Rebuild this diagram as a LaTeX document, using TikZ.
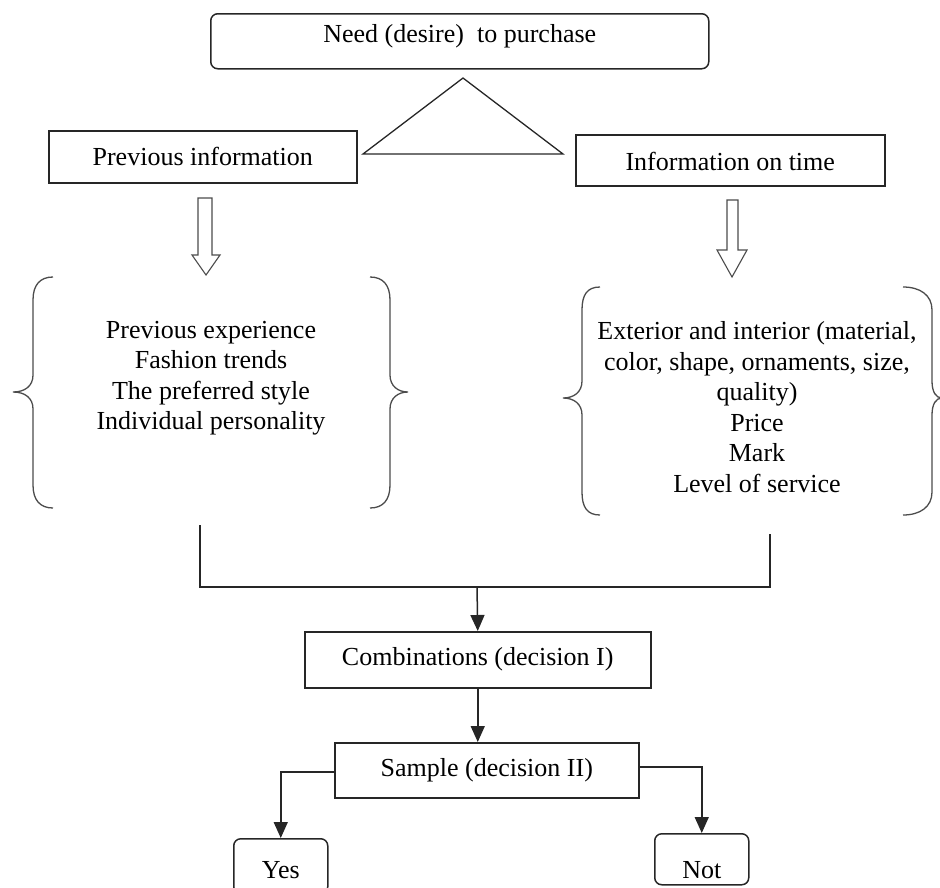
\documentclass[tikz,border=0pt]{standalone}
\usepackage{fontspec}
\setmainfont{Liberation Serif}
\usetikzlibrary{arrows.meta}
\begin{document}
\begin{tikzpicture}[x=1pt,y=-1pt,
  box/.style={draw=black!85, line width=1.5pt, inner xsep=0pt, inner ysep=0pt, align=center, font=\fontsize{26}{30.5}\selectfont},
  rbox/.style={box, rounded corners=7pt},
  conn/.style={draw=black!85, line width=1.5pt, -{Triangle[length=16pt,width=14pt]}},
  plainline/.style={draw=black!85, line width=1.5pt},
  brace/.style={draw=black!70, line width=1.3pt},
  hollow/.style={draw=black!70, line width=1.1pt, fill=white, line join=miter},
  txt/.style={align=center, font=\fontsize{26}{30.5}\selectfont, inner sep=0pt}]
\useasboundingbox (0,0) rectangle (940,887);

% top box and triangle
\node[rbox, anchor=north west, minimum width=498pt, text height=29pt, text depth=26pt] (need) at (210,13) {Need (desire)\ \ to purchase};
\draw[plainline, line width=1.3pt, line join=miter] (463,78) -- (363,154) -- (563,154) -- cycle;

% second row boxes
\node[box, anchor=north west, minimum width=308pt, text height=35pt, text depth=17pt] (prev) at (48,130) {Previous information};
\node[box, anchor=north west, minimum width=309pt, text height=36pt, text depth=15pt] (ontime) at (575,134) {Information on time};

% hollow arrows
\draw[hollow] (198,198) -- (212,198) -- (212,255) -- (220,255) -- (206,275) -- (192,255) -- (198,255) -- cycle;
\draw[hollow] (727,200) -- (738,200) -- (738,250) -- (747,250) -- (732,277) -- (717,250) -- (727,250) -- cycle;

% left braces
\draw[brace] (53,277) .. controls (40,277) and (33,285) .. (33,300) -- (33,375)
  .. controls (33,386) and (25,392) .. (13,392)
  .. controls (25,392) and (33,398) .. (33,409) -- (33,485)
  .. controls (33,500) and (40,508) .. (53,508);
\draw[brace] (370,277) .. controls (383,277) and (390,285) .. (390,300) -- (390,375)
  .. controls (390,386) and (398,392) .. (408,392)
  .. controls (398,392) and (390,398) .. (390,409) -- (390,485)
  .. controls (390,500) and (383,508) .. (370,508);
\node[txt] (lst) at (211,378) {Previous experience\\Fashion trends\\The preferred style\\Individual personality};

% right braces
\draw[brace] (600,287) .. controls (587,287) and (582,295) .. (582,310) -- (582,381)
  .. controls (582,392) and (574,398) .. (563,398)
  .. controls (574,398) and (582,404) .. (582,415) -- (582,492)
  .. controls (582,507) and (587,515) .. (600,515);
\draw[brace] (903,287) .. controls (920,287) and (932,295) .. (932,310) -- (932,381)
  .. controls (932,392) and (936,398) .. (942,398)
  .. controls (936,398) and (932,404) .. (932,415) -- (932,492)
  .. controls (932,507) and (920,515) .. (903,515);
\node[txt] (rst) at (757,407) {Exterior and interior (material,\\color, shape, ornaments, size,\\quality)\\Price\\Mark\\Level of service};

% joining connector
\coordinate (lb) at (200,525);
\coordinate (rb) at (770,534);
\coordinate (j) at (477,587);
\draw[plainline] (lb) |- (j) -| (rb);

% lower boxes
\node[box, anchor=north west, minimum width=346pt, text height=34pt, text depth=22pt] (comb) at (304,631) {Combinations (decision I)};
\node[box, anchor=north west, minimum width=304pt, text height=34pt, text depth=21pt] (samp) at (334,742) {Sample (decision II)};
\node[rbox, anchor=north west, minimum width=94pt, text height=40pt, text depth=15pt] (yes) at (233,838) {Yes};
\node[rbox, anchor=north west, minimum width=94pt, text height=45pt, text depth=6pt] (not) at (654,833) {Not};

\draw[conn] (j) -- (comb.north);
\draw[conn] (comb.south) -- (comb.south |- samp.north);
\draw[conn] ([yshift=-1.5pt]samp.west) -| (yes.north);
\draw[conn] ([yshift=3.5pt]samp.east) -| (not.north);
\end{tikzpicture}
\end{document}
